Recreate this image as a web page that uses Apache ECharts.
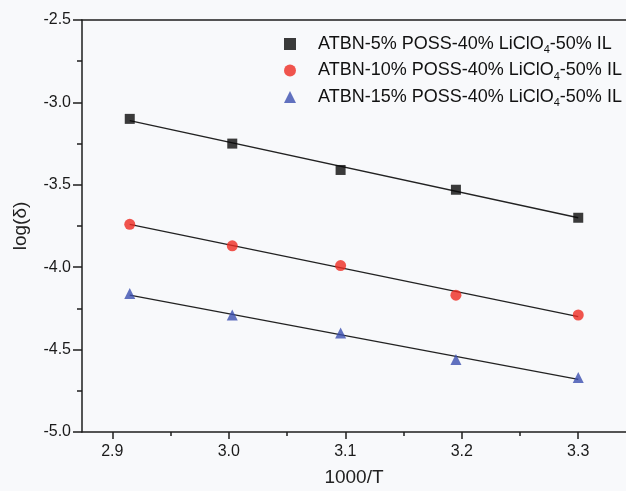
<!DOCTYPE html>
<html>
<head>
<meta charset="utf-8">
<style>
  html, body { margin: 0; padding: 0; background: #f8f9fb; }
  #chart { width: 626px; height: 491px; }
</style>
<script src="https://cdn.jsdelivr.net/npm/echarts@6/dist/echarts.min.js"></script>
</head>
<body>
<div id="chart"></div>
<script>
// 1000/T values shared by all three samples
var invT = [2.915, 3.003, 3.096, 3.195, 3.300];

var seriesNames = [
    'ATBN-5% POSS-40% LiClO4-50% IL',
    'ATBN-10% POSS-40% LiClO4-50% IL',
    'ATBN-15% POSS-40% LiClO4-50% IL'
];

// log(δ)
var logS5 = [-3.10, -3.25, -3.41, -3.53, -3.70];
var logS10 = [-3.74, -3.87, -3.99, -4.17, -4.29];
var logS15 = [-4.16, -4.29, -4.40, -4.56, -4.67];

// fitted lines, value at first and last 1000/T
var fitX = [2.915, 3.300];
var fit5 = [-3.11, -3.70];
var fit10 = [-3.74, -4.30];
var fit15 = [-4.17, -4.68];

var xMajor = [2.9, 3.0, 3.1, 3.2, 3.3];
var xMinor = [2.95, 3.05, 3.15, 3.25];

var xMin = 2.874, xMax = 3.341;

function pairs(xs, ys) {
    return xs.map(function(x, i) { return [x, ys[i]]; });
}

var axisColor = '#1e1e1e';
var font = 'Liberation Sans, Arial, Helvetica, sans-serif';

var chart = echarts.init(document.getElementById('chart'));

chart.setOption({
    backgroundColor: '#f8f9fb',
    animation: false,
    textStyle: { fontFamily: font },
    grid: { left: 82, right: 0, top: 20, bottom: 59, outerBoundsMode: 'none' },
    legend: {
        orient: 'vertical',
        left: 279,
        top: 30,
        itemGap: 6,
        itemWidth: 12,
        itemHeight: 12,
        data: seriesNames,
        formatter: function(name) {
            return name.replace('LiClO4', 'LiClO{s|4}');
        },
        textStyle: {
            fontSize: 18,
            color: '#111',
            fontFamily: font,
            padding: [0, 0, 0, 17],
            rich: {
                s: { fontSize: 11, padding: [12, 0, 0, 0], color: '#111', fontFamily: font }
            }
        }
    },
    xAxis: [
        {
            type: 'value', min: xMin, max: xMax, position: 'bottom',
            name: '1000/T', nameLocation: 'middle', nameGap: 36,
            nameTextStyle: { fontSize: 19, color: '#222' },
            axisLine: { show: true, lineStyle: { color: axisColor, width: 1.5 } },
            axisTick: { show: true, customValues: xMajor, length: 7, lineStyle: { color: axisColor, width: 1.5 } },
            axisLabel: {
                customValues: xMajor, fontSize: 16, color: '#1a1a1a', margin: 12,
                formatter: function(v) { return v.toFixed(1); }
            },
            splitLine: { show: false }
        },
        {
            type: 'value', min: xMin, max: xMax, position: 'bottom',
            axisLine: { show: false },
            axisTick: { show: true, customValues: xMinor, length: 4, lineStyle: { color: axisColor, width: 1.5 } },
            axisLabel: { show: false },
            splitLine: { show: false }
        },
        {
            type: 'value', min: xMin, max: xMax, position: 'top',
            axisLine: { show: true, lineStyle: { color: axisColor, width: 1.5 } },
            axisTick: { show: false },
            axisLabel: { show: false },
            splitLine: { show: false }
        }
    ],
    yAxis: {
        type: 'value', min: -5, max: -2.5, interval: 0.5,
        name: 'log(δ)', nameLocation: 'middle', nameGap: 52,
        nameTextStyle: { fontSize: 19, color: '#222' },
        axisLine: { show: true, lineStyle: { color: axisColor, width: 1.5 } },
        axisTick: { show: true, length: 9, lineStyle: { color: axisColor, width: 1.5 } },
        minorTick: { show: true, splitNumber: 2, length: 5, lineStyle: { color: axisColor, width: 1.5 } },
        axisLabel: {
            fontSize: 16, color: '#1a1a1a', margin: 11,
            formatter: function(v) { return v.toFixed(1); }
        },
        splitLine: { show: false }
    },
    series: [
        { type: 'line', data: pairs(fitX, fit5), symbol: 'none', lineStyle: { color: '#222', width: 1.3 }, z: 1 },
        { type: 'line', data: pairs(fitX, fit10), symbol: 'none', lineStyle: { color: '#222', width: 1.3 }, z: 1 },
        { type: 'line', data: pairs(fitX, fit15), symbol: 'none', lineStyle: { color: '#222', width: 1.3 }, z: 1 },
        {
            name: seriesNames[0], type: 'scatter', data: pairs(invT, logS5),
            symbol: 'rect', symbolSize: 10, itemStyle: { color: '#0a0a0a' }, z: 3
        },
        {
            name: seriesNames[1], type: 'scatter', data: pairs(invT, logS10),
            symbol: 'circle', symbolSize: 11, itemStyle: { color: '#ee2b22' }, z: 3
        },
        {
            name: seriesNames[2], type: 'scatter', data: pairs(invT, logS15),
            symbol: 'triangle', symbolSize: 11, itemStyle: { color: '#3b4fb0' }, z: 3
        }
    ]
});
</script>
</body>
</html>
